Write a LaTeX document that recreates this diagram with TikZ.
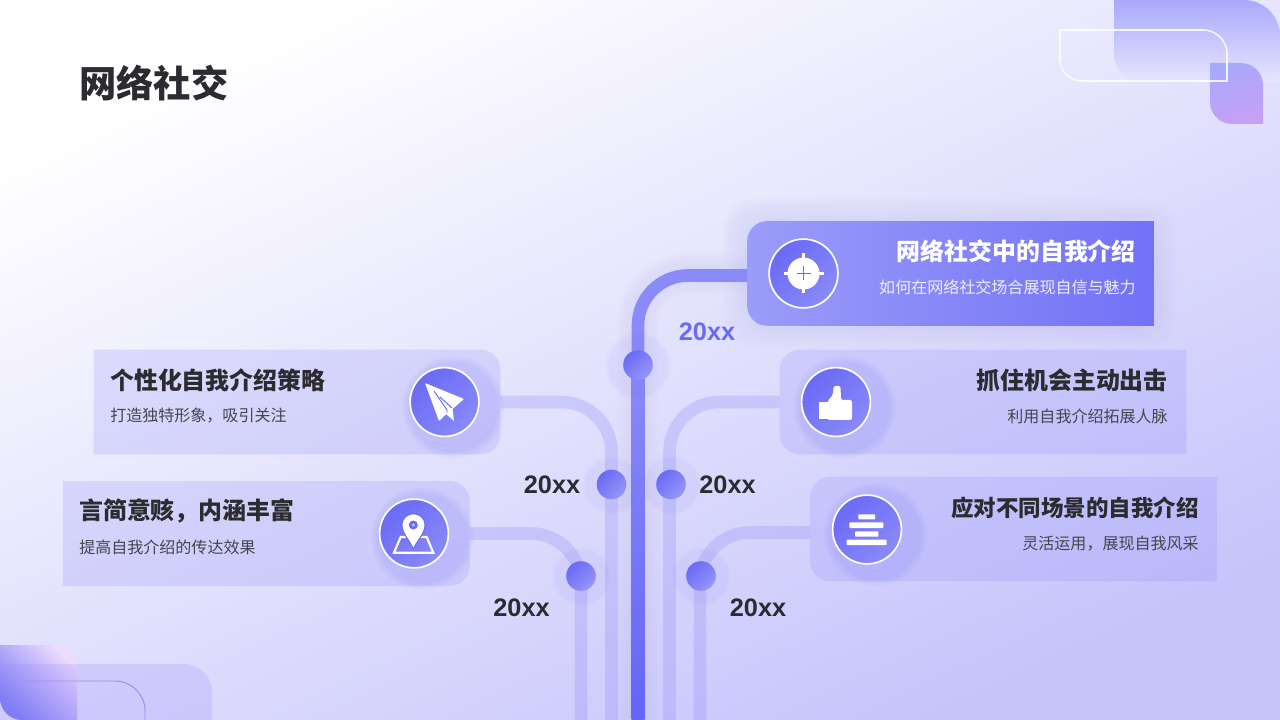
\documentclass[tikz,border=0pt]{standalone}
\usepackage{fontspec}
\setmainfont{Liberation Sans}
\newfontfamily\cjk{Noto Sans CJK SC}
\usetikzlibrary{backgrounds,fadings}
\definecolor{bgend}{HTML}{C6C4FB}
\definecolor{ink}{HTML}{2B2B30}
\definecolor{inksub}{HTML}{45454F}
\definecolor{violet}{HTML}{6A6AF6}
\definecolor{violetlt}{HTML}{8A8AF8}
\definecolor{cardtint}{HTML}{8F8DF8}
\definecolor{decotop}{HTML}{A9A9FB}
\definecolor{decofade}{HTML}{E7E5FE}
\definecolor{decolilac}{HTML}{C6A0F6}
\definecolor{decopink}{HTML}{EEDCFD}
\definecolor{decoline}{HTML}{9B90EA}
\tikzset{
  cardbox/.style={minimum width=10.15cm,minimum height=2.6cm,inner sep=0pt},
  cardfill/.style={fill=cardtint,fill opacity=0.22},
  branch/.style={draw=cardtint,draw opacity=0.28,line width=9pt,rounded corners=1.25cm},
  mainbranch/.style={draw=violetlt,line width=9pt,rounded corners=1.25cm},
  yeardot/.style={circle,minimum size=0.74cm,inner sep=0pt,top color=violet,bottom color=violetlt!90!white,shading angle=45},
  iconball/.style={circle,minimum size=1.72cm,inner sep=0pt,draw=white,line width=1.2pt,top color=violet,bottom color=violetlt,shading angle=45},
  yearlabel/.style={font=\fontsize{18}{20}\selectfont\bfseries,text=ink,inner sep=0pt},
  headtext/.style={font=\cjk\fontsize{17}{20}\selectfont\bfseries,text=ink,inner sep=0pt},
  subtext/.style={font=\cjk\fontsize{11.4}{14}\selectfont,text=inksub,inner sep=0pt},
  iconglow/.style={fill=violet,fill opacity=0.16,path fading=circle with fuzzy edge 15 percent},
  dotglow/.style={fill=violet,fill opacity=0.07,path fading=circle with fuzzy edge 15 percent},
}
\newcommand{\cardright}[1]{\fill[cardfill] (#1.north west) [rounded corners=0.5cm] -- (#1.north east) -- (#1.south east) [sharp corners] -- (#1.south west) -- cycle;}
\newcommand{\cardleft}[1]{\fill[cardfill] (#1.north east) [rounded corners=0.5cm] -- (#1.north west) -- (#1.south west) [sharp corners] -- (#1.south east) -- cycle;}

\begin{document}
\begin{tikzpicture}[x=0.025cm,y=-0.025cm]
\useasboundingbox (0,0) rectangle (1280,720);

\node[cardbox] (cardTop) at (950.5,273.5) {};
\node[cardbox] (cardA) at (297,402) {};
\node[cardbox] (cardB) at (266.5,533.5) {};
\node[cardbox] (cardC) at (983,402) {};
\node[cardbox] (cardD) at (1013.5,529) {};

\coordinate (endTop) at (638,720);
\coordinate (endA) at (611.5,720);
\coordinate (endB) at (581,720);
\coordinate (endC) at (669.5,720);
\coordinate (endD) at (700,720);

% card fills, glow under the icons
\foreach \g in {2,4,...,24}
  \fill[violetlt,fill opacity=0.01,rounded corners=0.7cm] (747-\g,222-\g) rectangle (1154+\g,325+\g);
\shade[left color=violetlt!85!white,right color=violet!95!white] (cardTop.north east) [rounded corners=0.5cm] -- (cardTop.north west) -- (cardTop.south west) [sharp corners] -- (cardTop.south east) -- cycle;
\cardright{cardA}
\cardright{cardB}
\cardleft{cardC}
\cardleft{cardD}
\fill[iconglow] (453,407) circle (52);
\fill[iconglow] (422,538) circle (52);
\fill[iconglow] (844,407) circle (52);
\fill[iconglow] (875,534) circle (52);

\node[iconball] (iconTop) at (803.5,273.5) {};
\node[iconball] (iconA) at (444.5,402) {};
\node[iconball] (iconB) at (414,533.5) {};
\node[iconball] (iconC) at (836,402) {};
\node[iconball] (iconD) at (867,529.5) {};

% target
\draw[white,line width=1.6pt] (783.5,273.5) -- (823.5,273.5) (803.5,253.5) -- (803.5,293.5);
\fill[white] (iconTop) circle (16);
\draw[violet,line width=1.2pt] (796.5,273.5) -- (810.5,273.5) (803.5,266.5) -- (803.5,280.5);

% paper plane
\fill[white,rounded corners=0.5pt] (425,383) -- (464,399) -- (452.5,409) -- (454,421) -- (446,414) -- (439,421) -- cycle;
\draw[violet,line width=0.7pt] (434,391) -- (447,410) -- (447,413) (440,397) -- (452,408);

% pin on a map
\draw[white,line width=1.5pt] (400.7,537) -- (426.7,537) -- (433.3,552.7) -- (394,552.7) -- cycle;
\fill[white,draw=violet,line width=0.8pt] (413.3,549) .. controls (408,538) and (402,533) .. (402,525) .. controls (402,510) and (425,510) .. (425,525) .. controls (425,533) and (419,538) .. (413.3,549) -- cycle;
\fill[violet] (413.3,525) circle (4.5);
\fill[white!60!violet] (413.3,525) circle (1.8);

% thumb
\fill[white] (819.3,402) rectangle (828,419.5);
\fill[white,rounded corners=1.5pt] (827.5,401) -- (833,395) -- (833.5,386) -- (840.5,386) -- (841,400) -- (852,400) -- (852,420) -- (827.5,420) -- cycle;

% stacked bars
\fill[white,rounded corners=0.5pt] (858.3,514.3) rectangle (875,519.3);
\fill[white,rounded corners=0.5pt] (849.3,522.3) rectangle (883.3,528);
\fill[white,rounded corners=0.5pt] (855,531.3) rectangle (878.3,536.7);
\fill[white,rounded corners=0.5pt] (846.7,539.7) rectangle (886.7,545);

\node[yeardot] (dotTop) at (638,365) {};
\node[yeardot] (dotA) at (611.5,484.5) {};
\node[yeardot] (dotB) at (581,576) {};
\node[yeardot] (dotC) at (671,484.5) {};
\node[yeardot] (dotD) at (701,576) {};

\node[headtext,anchor=west,font=\cjk\fontsize{26.5}{30}\selectfont\bfseries] (title) at (79,83) {网络社交};

\node[headtext,anchor=east,text=white] (headTop) at (1136,251) {网络社交中的自我介绍};
\node[subtext,anchor=east,text=white!88!violet] (subTop) at (1136,287) {如何在网络社交场合展现自信与魅力};
\node[headtext,anchor=west] (headA) at (110,380) {个性化自我介绍策略};
\node[subtext,anchor=west] (subA) at (110,416) {打造独特形象，吸引关注};
\node[headtext,anchor=west] (headB) at (79,511) {言简意赅，内涵丰富};
\node[subtext,anchor=west] (subB) at (79,547) {提高自我介绍的传达效果};
\node[headtext,anchor=east] (headC) at (1168,380) {抓住机会主动出击};
\node[subtext,anchor=east] (subC) at (1168,416) {利用自我介绍拓展人脉};
\node[headtext,anchor=east,font=\cjk\fontsize{16}{20}\selectfont\bfseries] (headD) at (1199,508) {应对不同场景的自我介绍};
\node[subtext,anchor=east] (subD) at (1199,544) {灵活运用，展现自我风采};

\node[yearlabel,text=violet] (yearTop) at (707,332) {20xx};
\node[yearlabel] (yearA) at (552,485) {20xx};
\node[yearlabel] (yearB) at (521.5,608) {20xx};
\node[yearlabel] (yearC) at (727.5,485) {20xx};
\node[yearlabel] (yearD) at (758,608) {20xx};

\begin{pgfonlayer}{background}
\shade[top color=white,bottom color=bgend,shading angle=25] (0,0) rectangle (1280,720);

% corner pieces
\shade[top color=decotop,bottom color=decofade] (1114,0) [rounded corners=0.9cm] -- (1280,0) [sharp corners] -- (1280,82) [rounded corners=0.7cm] -- (1114,82) [sharp corners] -- cycle;
\shade[top color=decotop,bottom color=decolilac,shading angle=20] (1210,63) [rounded corners=0.55cm] -- (1263,63) [sharp corners] -- (1263,124) [rounded corners=0.55cm] -- (1210,124) [sharp corners] -- cycle;
\draw[white,draw opacity=0.85,line width=1.1pt] (1060,30) [rounded corners=0.6cm] -- (1227,30) [sharp corners] -- (1227,81) [rounded corners=0.55cm] -- (1060,81) [sharp corners] -- cycle;

\shade[top color=decopink,bottom color=violet!90!white,shading angle=-45] (0,645) [rounded corners=0.55cm] -- (77,645) [sharp corners] -- (77,720) -- (20,720) [rounded corners=0.55cm] -- (0,720) [sharp corners] -- cycle;
\fill[violet!45!decolilac,fill opacity=0.22] (0,664) [rounded corners=0.7cm] -- (212,664) [sharp corners] -- (212,720) -- (0,720) -- cycle;
\draw[decoline,line width=0.7pt] (0,681) [rounded corners=0.75cm] -- (145,681) [sharp corners] -- (145,720);

% glow along the main branch
\foreach \g in {14,18,...,44}
  \draw[violetlt,draw opacity=0.012,line width=\g*0.7113pt,rounded corners=1.25cm] (cardTop.west) -| (endTop);

\draw[branch] (cardA.east) -| (endA);
\draw[branch] (cardB.east) -| (endB);
\draw[branch] (cardC.west) -| (endC);
\draw[branch] ([yshift=-0.0875cm]cardD.west) -| (endD);
\draw[mainbranch] ([yshift=-0.05cm]cardTop.west) -| (endTop);
\shade[top color=violetlt,bottom color=violet!95!blue] (631.7,365) rectangle (644.3,720);

\fill[dotglow] (dotTop) circle (34);
\fill[dotglow] (dotA) circle (30);
\fill[dotglow] (dotB) circle (30);
\fill[dotglow] (dotC) circle (30);
\fill[dotglow] (dotD) circle (30);
\end{pgfonlayer}
\end{tikzpicture}
\end{document}
